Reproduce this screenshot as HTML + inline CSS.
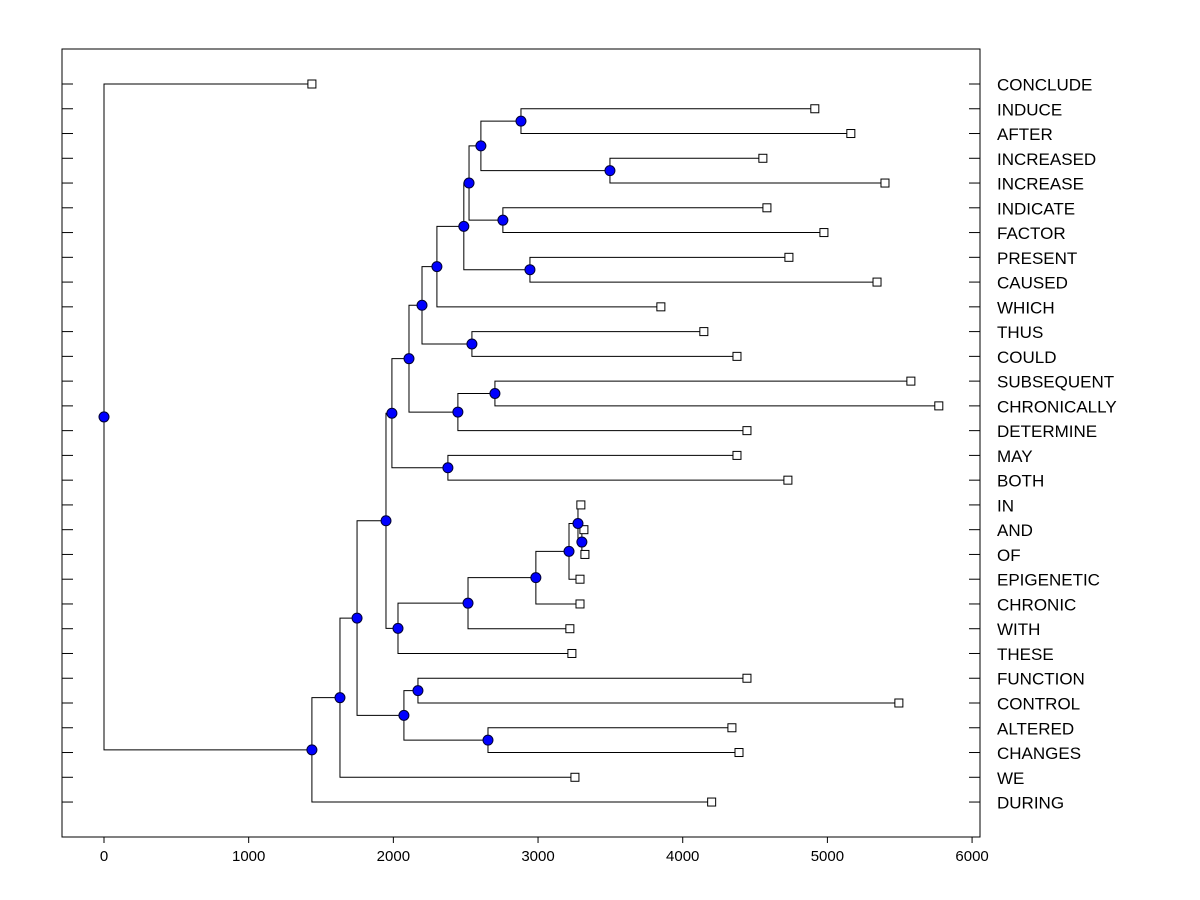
<!DOCTYPE html>
<html><head><meta charset="utf-8"><style>
html,body{margin:0;padding:0;background:#fff;}
svg{display:block;font-family:"Liberation Sans",Arial,sans-serif;}
</style></head><body>
<svg id="chart" width="1200" height="900">
<rect x="0" y="0" width="1200" height="900" fill="#fff"/>
<rect x="62" y="49" width="918" height="788" fill="none" stroke="#000" stroke-width="1"/>
<g id="axes"></g>
<g id="links"></g>
<g id="marks"></g>
</svg>
<script>
const labels = ["CONCLUDE","INDUCE","AFTER","INCREASED","INCREASE","INDICATE","FACTOR","PRESENT","CAUSED","WHICH","THUS","COULD","SUBSEQUENT","CHRONICALLY","DETERMINE","MAY","BOTH","IN","AND","OF","EPIGENETIC","CHRONIC","WITH","THESE","FUNCTION","CONTROL","ALTERED","CHANGES","WE","DURING"];
const leafHeights = [1437,4913,5162,4554,5398,4582,4976,4734,5343,3849,4146,4375,5577,5770,4444,4375,4727,3296,3317,3324,3290,3290,3220,3234,4444,5494,4340,4389,3255,4200];
const mergeLeft  = [1,3,30,5,32,7,34,36,10,37,12,40,39,15,42,18,17,46,47,48,49,44,24,26,52,51,55,56,0];
const mergeRight = [2,4,31,6,33,8,35,9,11,38,13,14,41,16,43,19,45,20,21,22,23,50,25,27,53,54,28,29,57];
const mergeHeights = [2882,3497,2605,2757,2523,2944,2487,2301,2543,2198,2702,2446,2108,2377,1990,3303,3276,3214,2985,2516,2032,1949,2170,2654,2073,1749,1631,1437,0];
const xTicks = [0,1000,2000,3000,4000,5000,6000];

const NS = "http://www.w3.org/2000/svg";
const xPx = v => 104 + v * 0.14468;
const rowPx = i => 84 + i * 24.76;
function mk(tag, attrs, parent){const e=document.createElementNS(NS,tag);for(const k in attrs)e.setAttribute(k,attrs[k]);parent.appendChild(e);return e;}
const axes=document.getElementById('axes'), links=document.getElementById('links'), marks=document.getElementById('marks');

xTicks.forEach(t=>{
  const x=xPx(t);
  const l=mk('line',{x1:x,y1:837,x2:x,y2:843,stroke:'#000'},axes);
  
  
  const tx=mk('text',{x:x,y:861,'text-anchor':'middle','font-size':'15'},axes);
  tx.textContent=t;
  
  
});
labels.forEach((lab,i)=>{
  const y=rowPx(i);
  const a=mk('line',{x1:62,y1:y,x2:73,y2:y,stroke:'#000'},axes);
  
  
  const b=mk('line',{x1:969,y1:y,x2:980,y2:y,stroke:'#000'},axes);
  
  
  const tx=mk('text',{x:997,y:y+6.5,'font-size':'17'},axes);
  tx.textContent=lab;
  
  
});

const nodeX=[], nodeY=[];
leafHeights.forEach((h,i)=>{nodeX.push(xPx(h));nodeY.push(rowPx(i));});
mergeHeights.forEach((h,m)=>{
  const a=mergeLeft[m], b=mergeRight[m], x=xPx(h);
  const ya=nodeY[a], yb=nodeY[b];
  const p=mk('path',{d:`M${nodeX[a]},${ya}H${x}V${yb}H${nodeX[b]}`,fill:'none',stroke:'#000','stroke-width':'1'},links);
  
  
  nodeX.push(x); nodeY.push((ya+yb)/2);
});
leafHeights.forEach((h,i)=>{
  const r=mk('rect',{x:nodeX[i]-4,y:nodeY[i]-4,width:8,height:8,fill:'#fff',stroke:'#000'},marks);
  
  
});
mergeHeights.forEach((h,m)=>{
  const n=leafHeights.length+m;
  const c=mk('circle',{cx:nodeX[n],cy:nodeY[n],r:5,fill:'#0000ff',stroke:'#000033','stroke-width':'1'},marks);
  
  
});
</script>
</body></html>
